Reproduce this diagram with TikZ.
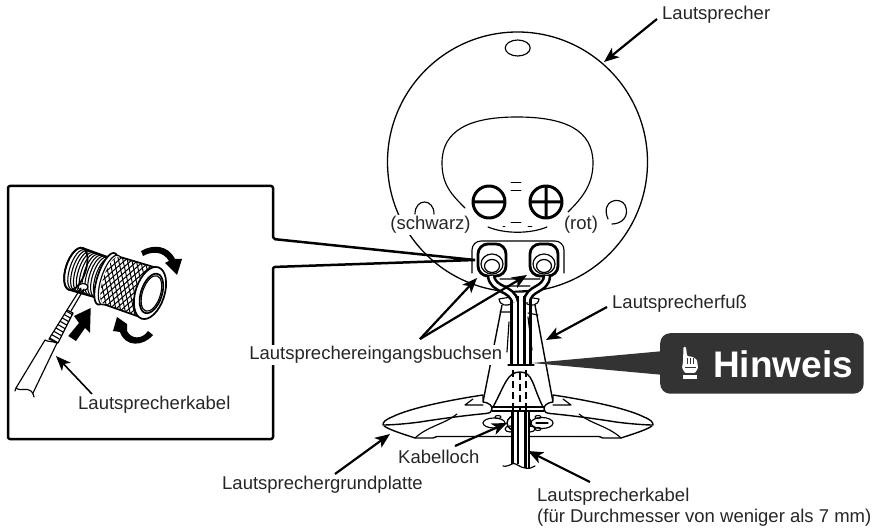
\documentclass[tikz,border=0pt]{standalone}
\usepackage{fontspec}
\setmainfont{Liberation Sans}
\usetikzlibrary{arrows.meta}
\definecolor{noteGray}{HTML}{333333}
\tikzset{
  thin line/.style={line width=1.15pt,line join=round,line cap=round},
  mid line/.style={line width=1.7pt,line join=round},
  heavy line/.style={line width=2.8pt,line join=round},
  callout/.style={line width=2.2pt,-{Stealth[length=15pt,width=12pt,inset=4pt]}},
  lbl/.style={font=\fontsize{18.5}{20}\selectfont,inner sep=0pt,text=black!85},
  lblw/.style={lbl,fill=white,inner sep=1pt},
}
\begin{document}
\begin{tikzpicture}[x=1pt,y=-1pt]
\useasboundingbox (0,0) rectangle (884,529);
% ---------- speaker
\draw[thin line,line width=1.3pt] (517.5,162) circle [radius=130pt];
\draw[thin line] (517.7,48) ellipse [x radius=12.5pt,y radius=8pt];
\draw[thin line] (465,208) .. controls (452,195) and (442,185) .. (442,163)
  .. controls (442,130) and (470,117) .. (517,117)
  .. controls (565,117) and (593,130) .. (593,163)
  .. controls (593,185) and (582,198) .. (568,212);
\draw[thin line] (488,227) .. controls (505,234) and (530,234) .. (547,227);
\draw[thin line,line width=0.9pt] (511,182) -- (521,182) (511,190) -- (521,190) (511,222) -- (521,222) (503,226) -- (505,226) (528,226) -- (532,226);
\draw[heavy line,line width=3pt] (489,202) circle [radius=16pt] (473,202) -- (505,202);
\draw[heavy line,line width=3pt] (546,202) circle [radius=16pt] (530,202) -- (562,202) (546,186) -- (546,218);
\draw[thin line] (415,214) .. controls (415,198) and (434,198) .. (434,214);
\draw[thin line] (608,219) .. controls (600,200) and (620,196) .. (625,205)
  .. controls (630,216) and (622,224) .. (612,224);
% ---------- stand
\fill[white] (483,402) -- (502,300) -- (535,300) -- (553,402) -- cycle;
\draw[mid line,line width=1.4pt] (502,305) -- (483,402) (535,305) -- (553,402);
\draw[thin line] (509,322) -- (507,352) (528,317) -- (532,350);
\draw[thin line] (500,312) -- (510,312) (528,313) -- (538,315);
\draw[thin line,fill=white] (499,299) .. controls (500,306) and (507,306) .. (511,304) -- (511,297) -- cycle;
\draw[thin line,fill=white] (539,299) .. controls (538,306) and (531,306) .. (527,304) -- (527,297) -- cycle;
\draw[mid line,line width=1.4pt] (493,407) .. controls (505,385) and (507,372) .. (520,372)
  .. controls (533,372) and (532,385) .. (543,407);
% ---------- base
\foreach \sx/\ox in {1/0,-1/1036}{
\begin{scope}[shift={(\ox,0)},xscale=\sx]
 \fill[white] (383,425) -- (415,438) -- (518,437) -- (518,413) -- (488,413) -- cycle;
 \draw[mid line,line width=1.4pt] (384,426) .. controls (390,430) and (400,433) .. (415,438) -- (433,438) -- (437,436.5) -- (518,436.5);
 \draw[mid line,line width=1.4pt,fill=white] (483,402) .. controls (490,403) and (492,406) .. (492,409) .. controls (492,412) and (490,413) .. (486,413.5) .. controls (470,415) and (445,418) .. (420,422) .. controls (405,424) and (390,425) .. (383,425) .. controls (383,422) and (385,420) .. (392,417) .. controls (410,408) and (450,400) .. (483,395) -- cycle;
 \draw[thin line] (415,438) .. controls (428,426) and (445,424) .. (457,414);
 \draw[thin line] (465,405) -- (483,405) (465,405) -- (473,399);
\end{scope}}
\draw[mid line,line width=1.4pt] (492,407) -- (544,407);
\draw[thin line] (492,411) -- (544,411);
\draw[thin line] (494,423) ellipse [x radius=11pt,y radius=5pt];
\draw[thin line] (542,423) ellipse [x radius=11pt,y radius=5.5pt];
\draw[thin line] (536,423) -- (548,423);
\draw[thin line] (498,417) ellipse [x radius=3pt,y radius=1.5pt] (538,417) ellipse [x radius=3pt,y radius=1.5pt] (538,429) ellipse [x radius=3pt,y radius=1.5pt];
\draw[mid line,line width=1.5pt,fill=white] (519,423) ellipse [x radius=12pt,y radius=8.5pt];
\draw[thin line] (510,429) ellipse [x radius=5pt,y radius=3pt] (530,429) ellipse [x radius=5pt,y radius=3pt];
% ---------- terminal plate and terminals
\draw[thin line,fill=white,rounded corners=9pt] (472,273) -- (472,241) -- (564,241) -- (564,273);
\foreach \tx in {492,544}{
  \draw[heavy line,fill=white,rounded corners=10pt] (\tx-14,276) rectangle (\tx+14,244);
  \draw[thin line,line width=1.2pt] (\tx,264) ellipse [x radius=11pt,y radius=10pt];
  \draw[thin line,line width=1.2pt] (\tx,266) ellipse [x radius=7.5pt,y radius=6.5pt];
}
\draw[thin line] (500,279) -- (540,279) (505,286) -- (530,286) (505,292) -- (535,290);
% ---------- wires, coming from the terminals into the cable
\foreach \wx/\wy/\wz/\wv in {491/493/512/515,547/546/528/527}{
  \draw[black,line width=8.6pt] (\wx,276) .. controls (\wy,291) and (\wz,287) .. (\wv,302);
  \draw[white,line width=3.4pt] (\wx,276) .. controls (\wy,291) and (\wz,287) .. (\wv,302);
}
\draw[heavy line,line width=2.8pt] (511.5,300) -- (511.5,365) (518,296) -- (518,365) (524.5,296) -- (524.5,365) (530.5,300) -- (530.5,365);
\draw[thin line] (508,365) -- (534,365);
\draw[heavy line,dash pattern=on 7pt off 4pt,line width=2.6pt] (513,370) -- (513,410) (526,370) -- (526,410);
\draw[heavy line,dash pattern=on 7pt off 4pt,line width=2pt] (520,373) -- (520,410);
% lower cable
\fill[white] (512,412) rectangle (528,465);
\draw[heavy line,line width=3pt] (512.5,412) -- (512.5,463.5) (525,412) -- (525,468);
\draw[heavy line,line width=2pt] (518,412) -- (518,464);
\draw[thin line] (529,412) -- (529,468);
\draw[thin line] (503,466) .. controls (506,467) and (510,465) .. (513,463.5) .. controls (516,463) and (521,468) .. (525,468) .. controls (529,469) and (532,468) .. (535,466);
% ---------- inset box
\coordinate (boxA) at (273,239);
\coordinate (boxB) at (273,267);
\coordinate (termL) at (475,260);
\draw[mid line,line width=2.5pt,rounded corners=2pt] (termL) -- (boxA) -- (273,186) -- (8,186) -- (8,439) -- (273,439) -- (boxB) -- (termL);
% ---------- knob
\begin{scope}[shift={(150,293)},rotate=-18,line width=0.8pt]
  \draw[mid line,fill=white] (-78,0) ellipse [x radius=10pt,y radius=22pt];
  \fill[white] (-78,-21) -- (-46,-21) -- (-46,21) -- (-78,21) .. controls (-85,21) and (-85,-21) .. (-78,-21);
  \foreach \u in {-84,-81,...,-48}{
    \draw[line width=1.1pt] (\u+9,-21) .. controls (\u-3,-21) and (\u-3,21) .. (\u+9,21);
  }
  \draw[mid line] (-78,-22) -- (-46,-21) (-78,22) -- (-46,21);
  \draw[mid line] (-78,0) ellipse [x radius=10pt,y radius=22pt];
  \draw[mid line,fill=white] (-46,0) ellipse [x radius=9pt,y radius=27pt];
  \draw[thin line,fill=white] (-42,0) ellipse [x radius=9pt,y radius=26pt];
  \begin{scope}
    \clip (-40,-25) -- (0,-25) -- (0,25) -- (-40,25) .. controls (-52,25) and (-52,-25) .. (-40,-25);
    \fill[white] (-60,-30) rectangle (5,30);
    \foreach \d in {-80,-75,...,40}{
      \draw[line width=1pt] (\d,-30) -- (\d+35,30);
      \draw[line width=1pt] (\d,30) -- (\d+35,-30);
    }
  \end{scope}
  \draw[mid line] (-40,-25) -- (0,-26) (-40,25) -- (0,26);
  \draw[mid line,fill=white] (0,0) ellipse [x radius=14.5pt,y radius=27pt];
  \draw[mid line] (1.5,0) ellipse [x radius=10.5pt,y radius=20.5pt];
  \draw[thin line] (1.5,0) ellipse [x radius=9pt,y radius=18.5pt];
\end{scope}
% hole and wire
\draw[thin line,fill=white] (83,287) ellipse [x radius=5pt,y radius=3.5pt];
\draw[thin line] (84,289) -- (71,311) (81,288) -- (67,310);
% twisted part of the cable
\draw[thin line,fill=white] (67,310) -- (73,313) -- (58,343) -- (49,339) -- cycle;
\foreach \t in {0,1,...,8}{
  \draw[line width=1.1pt] ({66-\t*2.0},{311+\t*3.4}) -- ({73-\t*2.0},{315+\t*3.4});
}
% jacket
\draw[thin line] (45,340) .. controls (48,342) and (52,341) .. (57,343) -- (33,393) (45,340) -- (16,388);
\draw[thin line] (16,388) .. controls (22,392) and (26,387) .. (31,391) .. controls (32,392) and (33,393) .. (34,397) (16,388) -- (15,391);
% black movement arrows
\fill (141,251) .. controls (153,244) and (168,245) .. (175,259) -- (182,259) -- (177,275) -- (165,263) -- (169,261) .. controls (163,251) and (152,251) .. (143,256) -- cycle;
\fill (153,335) .. controls (143,347) and (125,347) .. (120,332) -- (113,331) -- (117,317) -- (127,324) -- (127,331) .. controls (131,339) and (142,340) .. (148,331) -- cycle;
\fill (68.3,336) -- (76,341) -- (85,328) -- (90,333) -- (90.7,308) -- (74,316) -- (79,323) -- cycle;
% ---------- Hinweis
\coordinate (noteTip) at (532,363);
\fill[noteGray] (noteTip) -- (664,351) -- (664,375) -- cycle;
\node[fill=noteGray,rounded corners=10pt,minimum width=203.5pt,minimum height=60.5pt,inner sep=0pt,anchor=north west] (note) at (660,333) {};
\node[font=\bfseries\fontsize{37}{40}\selectfont,text=white,inner sep=0pt,anchor=west] (noteText) at (713,364) {Hinweis};
% hand
\fill[white,rounded corners=1pt] (683,362) -- (683.5,347) -- (686,347) -- (687,356) -- (693,357) -- (697,360) -- (698,368) -- (695,373) -- (685,373) -- (682,368) -- cycle;
\fill[white] (683,375) rectangle (697,379);
\draw[noteGray,line width=0.7pt] (687,358) -- (687,364) (690,358) -- (690,364) (693,358) -- (693,364) (685,367) -- (696,367);
% ---------- labels
\node[lbl,anchor=west] (lSpeaker) at (662,15) {Lautsprecher};
\node[lblw] (lBlack) at (430.5,225) {(schwarz)};
\node[lblw] (lRed) at (581,225) {(rot)};
\node[lbl,anchor=west] (lFoot) at (612,304) {Lautsprecherfuß};
\node[lblw,anchor=east] (lJack) at (503.5,355) {Lautsprechereingangsbuchsen};
\node[lbl,anchor=west] (lHole) at (398,457) {Kabelloch};
\node[lbl,anchor=west] (lPlate) at (222,485) {Lautsprechergrundplatte};
\node[lbl,anchor=west] (lCable) at (537,497) {Lautsprecherkabel};
\node[lbl,anchor=west] (lDia) at (537,518) {(für Durchmesser von weniger als 7 mm)};
\node[lbl,anchor=west] (lInset) at (78,405) {Lautsprecherkabel};
% ---------- callouts
\coordinate (a1s) at (657,19); \coordinate (a1e) at (604,62);
\draw[callout] (a1s) -- (a1e);
\coordinate (a2s) at (607,307); \coordinate (a2e) at (546,340);
\draw[callout] (a2s) -- (a2e);
\coordinate (a3s) at (420,339); \coordinate (a3e) at (477,278); \coordinate (a3f) at (527,275);
\draw[callout] (a3s) -- (a3e);
\draw[callout] (a3s) -- (a3f);
\coordinate (a4s) at (455,446); \coordinate (a4e) at (507,423);
\draw[callout] (a4s) -- (a4e);
\coordinate (a5s) at (335,474); \coordinate (a5e) at (390,434);
\draw[callout] (a5s) -- (a5e);
\coordinate (a6s) at (590,482); \coordinate (a6e) at (528,451);
\draw[callout] (a6s) -- (a6e);
\coordinate (a7s) at (92,394); \coordinate (a7e) at (56,356);
\draw[callout,line width=1.6pt] (a7s) -- (a7e);
\end{tikzpicture}
\end{document}
